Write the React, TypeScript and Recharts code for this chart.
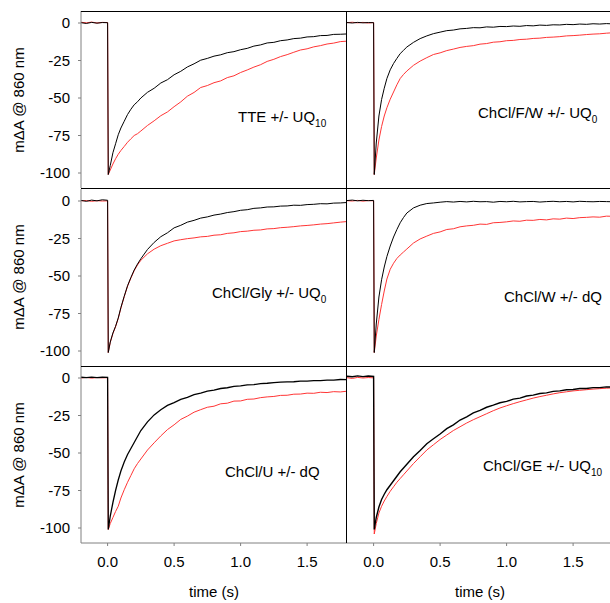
import { Line, LineChart, XAxis, YAxis } from "recharts";

// time axis shared by every trace (s)
const TIME = [
  -0.2, -0.16, -0.12, -0.08, -0.04, 0, 0.005, 0.02, 0.04, 0.06, 0.08, 0.1, 0.125, 0.15, 0.175, 0.2,
  0.225, 0.25, 0.3, 0.35, 0.4, 0.45, 0.5, 0.55, 0.6, 0.65, 0.7, 0.75, 0.8, 0.85, 0.9, 0.95, 1.0,
  1.05, 1.1, 1.15, 1.2, 1.25, 1.3, 1.35, 1.4, 1.45, 1.5, 1.55, 1.6, 1.65, 1.7, 1.75, 1.8,
];

// mΔA @ 860 nm, black = without quinone, red = with quinone
const TTE_BLACK = [
  0.2, -0.3, 0.4, -0.1, 0.3, 0.2,
  -101, -95, -86.5, -80.5, -74.5, -70, -65.5, -61, -57.5, -54.5, -52.5, -50, -46.2, -43.5, -40,
  -37.8, -34.5, -32.2, -29.3, -27.2, -24.8, -23.6, -22.1, -21.2, -19.8, -19.1, -17.8, -16.9, -15.4,
  -14.6, -13.3, -12.9, -11.8, -11.3, -10.4, -10.1, -9.3, -9.1, -8.4, -8.3, -7.6, -7.5, -7.3,
];
const TTE_RED = [
  0.5, 0.1, 0.6, 0.0, 0.4, 0.3,
  -101, -98, -94, -90.5, -87.5, -85, -82.3, -79.5, -77.2, -75, -73.8, -72, -68.3, -65.2, -61.8,
  -59.3, -55.8, -52.6, -48.8, -46.3, -43, -41.7, -39.8, -38.6, -36.4, -35.2, -33, -31.3, -29.4,
  -27.8, -25.6, -24.2, -22.4, -21.1, -19.5, -18, -17.2, -15.9, -15.1, -14, -13.4, -12.4, -12.1,
];
const FW_BLACK = [
  0.3, 0.0, 0.4, 0.1, 0.3, 0.2,
  -101, -80, -62, -51, -43.5, -37, -31.2, -27, -23.6, -20.4, -18.2, -16, -12.9, -10.4, -8.6,
  -7.1, -6.1, -5.1, -4.7, -3.9, -3.6, -3.1, -3.2, -2.6, -2.8, -2.3, -2.4, -2.0, -2.2,
  -1.7, -1.9, -1.4, -1.6, -1.2, -1.3, -0.9, -1.1, -0.7, -0.9, -0.5, -0.7, -0.4, -0.6,
];
const FW_RED = [
  0.2, 0.5, 0.1, 0.4, 0.0, 0.3,
  -101, -90, -78, -69, -62, -56.5, -50.8, -46, -41.2, -37, -34.3, -32, -28.2, -25.4, -23.1,
  -21, -19.9, -18.4, -17.4, -16.3, -15.6, -15.1, -14.1, -13.7, -12.8, -12.5, -11.8, -11.6, -11,
  -10.8, -10.3, -10.1, -9.6, -9.4, -9.1, -8.6, -8.4, -8.1, -7.7, -7.4, -7.2, -6.8, -6.5,
];
const GLY_BLACK = [
  0.4, -0.2, 0.6, 0.1, 0.8, 0.5,
  -101, -94, -88, -83.5, -78, -71, -63.5, -56.5, -51, -46, -42, -38.5, -32.3, -27.6, -23.8,
  -21.2, -17.9, -16.2, -14.1, -12.9, -11.4, -10.6, -9.4, -8.7, -7.7, -7.1, -6.2, -5.8, -4.9,
  -4.6, -4.0, -3.9, -3.4, -3.3, -2.8, -2.9, -2.4, -2.2, -1.8, -1.9, -1.4, -1.3, -1.0,
];
const GLY_RED = [
  0.1, 0.3, -0.2, 0.2, 0.0, 0.1,
  -101, -94.3, -88.4, -83.8, -78.3, -71.4, -63.8, -56.8, -51.4, -46.5, -42.6, -39.5, -35.2, -32.1, -29.8,
  -28.2, -26.6, -25.8, -25.1, -24.6, -23.9, -23.6, -22.8, -22.5, -21.6, -21.2, -20.4, -20.1, -19.5,
  -19.3, -18.6, -18.4, -17.8, -17.5, -17.1, -16.6, -16.3, -15.9, -15.4, -15.1, -14.6, -14.1, -13.7,
];
const W_BLACK = [
  0.3, 0.6, 0.1, 0.5, 0.2, 0.4,
  -101, -82, -64, -52.5, -44, -37, -30, -24, -19, -14.5, -11, -8, -4.6, -2.8, -1.7,
  -1.3, -0.8, -0.4, -0.7, -0.3, -0.6, -0.2, -0.5, -0.4, -0.8, -0.3, -0.5, -0.2, -0.6,
  -0.4, -0.3, -0.7, -0.4, -0.2, -0.5, -0.3, -0.6, -0.2, -0.4, -0.5, -0.3, -0.4, -0.5,
];
const W_RED = [
  0.2, 0.0, 0.4, -0.1, 0.3, 0.1,
  -101, -90, -79, -69, -60, -52, -45.5, -41.5, -38.3, -36, -34, -32, -28, -25.3, -23.4,
  -21.6, -20.6, -19, -18.5, -17.2, -16.6, -16.2, -15.4, -15.6, -14.5, -14.3, -13.9, -13.3, -13.5,
  -12.8, -12.9, -12.3, -12.6, -11.9, -12.1, -11.4, -11.7, -11.1, -10.9, -10.6, -10.8, -10.1, -10.2,
];
const U_BLACK = [
  0.5, 0.2, 0.6, 0.3, 0.5, 0.4,
  -101, -92, -83, -75, -68, -62, -56, -51, -47, -43, -39, -35, -29.2, -24.6, -21.2,
  -18.3, -16.4, -14.2, -12.9, -11.1, -10.1, -8.8, -8.1, -7.0, -6.5, -5.6, -5.3, -4.6, -4.4,
  -3.7, -3.5, -3.1, -2.8, -2.6, -2.5, -2.1, -2.1, -1.7, -1.7, -1.4, -1.4, -1.0, -1.1,
];
const U_RED = [
  0.0, 0.4, -0.1, 0.3, 0.1, 0.2,
  -101, -97, -93, -89, -85.5, -80, -74.5, -69.5, -65, -60.5, -57, -54, -48, -43.2, -38.6,
  -34.4, -31.2, -27.6, -25.4, -22.8, -21.1, -19.5, -18.8, -17.2, -16.8, -15.4, -15.3, -14.2, -14.0,
  -13.1, -12.6, -12.3, -11.6, -11.5, -10.8, -10.7, -10.1, -10.2, -9.5, -9.7, -9.1, -9.3, -8.8,
];
const GE_BLACK = [
  1.2, 0.8, 1.4, 0.9, 1.3, 1.0,
  -101, -93, -86, -81, -77.5, -74.5, -71.5, -68.5, -65.5, -62.5, -60, -57.5, -52.5, -48.3, -43.8,
  -40.5, -37.3, -33.8, -31.2, -28, -25.9, -23.3, -21.6, -19.5, -18.1, -16.5, -15.6, -14.1, -13.4,
  -12.0, -11.4, -10.3, -9.9, -8.9, -8.6, -7.8, -7.7, -7.0, -7.0, -6.4, -6.4, -5.9, -6.0,
];
const GE_RED = [
  0.2, -0.3, 0.4, 0.0, 0.3, 0.1,
  -104, -97, -90, -85.5, -82, -79, -75.5, -72.5, -69.5, -67, -64.5, -62, -57, -52.5, -48,
  -44.5, -41, -38, -35, -32.5, -30, -27.8, -25.8, -23.8, -21.8, -20, -18.5, -17.1, -15.8,
  -14.6, -13.4, -12.4, -11.5, -10.6, -9.8, -9.2, -8.6, -8.2, -7.8, -7.4, -7.1, -6.8, -6.6,
];

const X_TICKS = [0, 0.5, 1, 1.5];
const Y_TICKS = [0, -25, -50, -75, -100];

const FONT = "Arial, 'Liberation Sans', sans-serif";
const RED = "#ff3535";
const GREY = "#808080";

const PLOT_W = 266;
const PLOT_H = 177;
const LEFT_X = 81;
const RIGHT_X = 347;
const ROW_TOPS = [11, 189, 366];

type PanelProps = {
  black: number[];
  red: number[];
  col: number;
  row: number;
  blackWidth?: number;
};

function Panel({ black, red, col, row, blackWidth = 1 }: PanelProps) {
  const data = TIME.map((t, i) => ({ t, black: black[i], red: red[i] }));
  const bottom = row === 2;
  const yw = col === 0 ? LEFT_X : 10;
  const xh = bottom ? 60 : 0;
  const left = col === 0 ? 0 : RIGHT_X - yw;

  return (
    <div style={{ position: "absolute", left, top: ROW_TOPS[row] }}>
      <LineChart
        width={yw + PLOT_W}
        height={PLOT_H + xh}
        data={data}
        margin={{ top: 0, right: 0, bottom: 0, left: 0 }}
      >
        <XAxis
          type="number"
          dataKey="t"
          domain={[-0.2, 1.8]}
          ticks={X_TICKS}
          allowDataOverflow
          hide={!bottom}
          height={xh}
          tickSize={3}
          tickMargin={10}
          tickFormatter={(v: number) => v.toFixed(1)}
          tick={{ fill: "#000", fontSize: 15, fontFamily: FONT }}
          axisLine={{ stroke: GREY }}
          tickLine={{ stroke: GREY }}
        />
        <YAxis
          type="number"
          domain={[-110, 8]}
          ticks={Y_TICKS}
          allowDataOverflow
          width={yw}
          tickSize={3}
          tickMargin={8}
          tick={col === 0 ? { fill: "#000", fontSize: 15, fontFamily: FONT } : false}
          axisLine={col === 0 ? { stroke: GREY } : false}
          tickLine={{ stroke: col === 0 ? GREY : "#000" }}
        />
        <Line
          type="linear"
          dataKey="red"
          stroke={RED}
          strokeWidth={1}
          dot={false}
          isAnimationActive={false}
        />
        <Line
          type="linear"
          dataKey="black"
          stroke="#000"
          strokeWidth={blackWidth}
          dot={false}
          isAnimationActive={false}
        />
      </LineChart>
    </div>
  );
}

function Label({ x, y, text, sub }: { x: number; y: number; text: string; sub?: string }) {
  return (
    <text x={x} y={y} fontSize={15} fontFamily={FONT} fill="#000">
      {text}
      {sub && (
        <tspan fontSize={10} dy={4.5}>
          {sub}
        </tspan>
      )}
    </text>
  );
}

export default function App() {
  return (
    <div
      style={{
        position: "absolute",
        left: 0,
        top: 0,
        width: 610,
        height: 603,
        overflow: "hidden",
        background: "#fff",
      }}
    >
      <Panel black={TTE_BLACK} red={TTE_RED} col={0} row={0} />
      <Panel black={FW_BLACK} red={FW_RED} col={1} row={0} />
      <Panel black={GLY_BLACK} red={GLY_RED} col={0} row={1} />
      <Panel black={W_BLACK} red={W_RED} col={1} row={1} />
      <Panel black={U_BLACK} red={U_RED} col={0} row={2} blackWidth={1.3} />
      <Panel black={GE_BLACK} red={GE_RED} col={1} row={2} blackWidth={1.4} />

      <svg
        width={610}
        height={603}
        style={{ position: "absolute", left: 0, top: 0, pointerEvents: "none" }}
      >
        <g stroke="#000" strokeWidth={1}>
          <line x1={81} x2={610} y1={11.5} y2={11.5} />
          <line x1={81} x2={610} y1={188.5} y2={188.5} />
          <line x1={81} x2={610} y1={366.5} y2={366.5} />
          <line x1={346.5} x2={346.5} y1={11} y2={543} />
        </g>

        {[100, 277, 455].map((cy) => (
          <text
            key={cy}
            x={18}
            y={cy}
            fontSize={15}
            fontFamily={FONT}
            fill="#000"
            textAnchor="middle"
            dominantBaseline="central"
            transform={`rotate(-90 18 ${cy})`}
          >
            mΔA @ 860 nm
          </text>
        ))}

        <text x={214} y={597} fontSize={15} fontFamily={FONT} textAnchor="middle">
          time (s)
        </text>
        <text x={480} y={597} fontSize={15} fontFamily={FONT} textAnchor="middle">
          time (s)
        </text>

        <Label x={238} y={122} text="TTE +/- UQ" sub="10" />
        <Label x={478} y={118} text="ChCl/F/W +/- UQ" sub="0" />
        <Label x={212} y={298} text="ChCl/Gly +/- UQ" sub="0" />
        <Label x={504} y={302} text="ChCl/W +/- dQ" />
        <Label x={225} y={477} text="ChCl/U +/- dQ" />
        <Label x={483} y={471} text="ChCl/GE +/- UQ" sub="10" />
      </svg>
    </div>
  );
}
